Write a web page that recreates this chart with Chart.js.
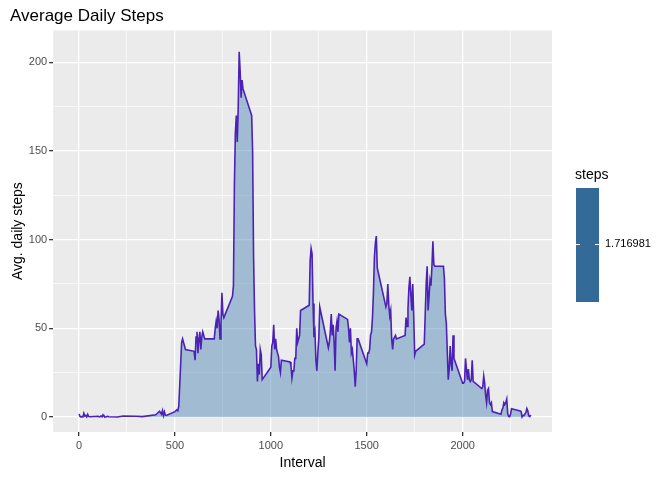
<!DOCTYPE html>
<html>
<head>
<meta charset="utf-8">
<script src="https://cdn.jsdelivr.net/npm/chart.js@4"></script>
<style>
  body { margin: 0; background: #fff; font-family: "Liberation Sans", Arial, sans-serif; }
  #wrap { position: relative; width: 672px; height: 480px; }
  #legend-title { position: absolute; left: 575px; top: 166px; font-size: 14px; color: #000; }
  #legend-bar { position: absolute; left: 576px; top: 188px; width: 23px; height: 114px; background: #336a98; }
  #legend-tick { position: absolute; left: 576px; top: 244px; width: 23px; height: 1px; }
  #legend-tick:before, #legend-tick:after { content: ""; position: absolute; top: 0; width: 4px; height: 1px; background: #fff; }
  #legend-tick:before { left: 0; }
  #legend-tick:after { right: 0; }
  #legend-label { position: absolute; left: 605px; top: 237px; font-size: 11px; color: #000; }
</style>
</head>
<body>
<div id="wrap">
  <canvas id="c" width="672" height="480"></canvas>
  <div id="legend-title">steps</div>
  <div id="legend-bar"></div>
  <div id="legend-tick"></div>
  <div id="legend-label">1.716981</div>
</div>
<script>
const intervals = [
  0,5,10,15,20,25,30,35,40,45,50,55,100,105,110,115,120,125,130,135,140,145,150,155,
  200,230,300,330,400,420,430,435,440,445,450,455,500,510,515,520,525,530,535,540,545,550,555,
  600,605,610,615,620,625,630,635,640,645,650,655,700,705,710,715,720,725,730,735,740,745,750,755,
  800,805,810,815,820,825,830,835,840,845,850,855,900,905,910,915,920,925,930,935,940,945,950,955,
  1000,1005,1010,1015,1020,1025,1030,1035,1040,1045,1050,1055,1100,1105,1110,1115,1120,1125,1130,1135,1140,1145,1150,1155,
  1200,1205,1210,1215,1220,1225,1230,1235,1240,1245,1250,1255,1300,1305,1310,1315,1320,1325,1330,1335,1340,1345,1350,1355,
  1400,1405,1410,1415,1420,1425,1430,1435,1440,1445,1450,1455,1500,1505,1510,1515,1520,1525,1530,1535,1540,1545,1550,1555,
  1600,1605,1610,1615,1620,1625,1630,1635,1640,1645,1650,1655,1700,1705,1710,1715,1720,1725,1730,1735,1740,1745,1750,1755,
  1800,1805,1810,1815,1820,1825,1830,1835,1840,1845,1850,1855,1900,1905,1910,1915,1920,1925,1930,1935,1940,1945,1950,1955,
  2000,2005,2010,2015,2020,2025,2030,2035,2040,2045,2050,2055,2100,2105,2110,2115,2120,2125,2130,2135,2140,2145,2150,2155,
  2200,2205,2210,2215,2220,2225,2230,2235,2240,2245,2250,2255,2300,2305,2310,2315,2320,2325,2330,2335,2340,2345,2350,2355
];
const avgSteps = [
  1.7,0.3,0.1,0.2,0,2.1,0.5,0.9,0,1.5,0.3,0.1,0.4,0,0.2,0.5,0.1,1.2,0.5,0,0,0.2,0.3,0.1,
  0,0.5,0.4,0.2,1.2,3.2,1.5,3.6,0.8,2.9,1,0.8,3,4,3.5,6,18,30,42,44,42,40,38,
  37,32,45,48,36,44,48,38,45,48,46,44,44,44,50,54,50,60,55,44,52,70,58,56,
  68,74,130,160,170,155,175,206,195,180,190,185,170,150,90,60,40,38,20,30,24,38,35,21,
  28,40,42,52,38,44,38,36,34,28,25,32,31,29,22,26,26,33,33,50,42,44,46,60,
  63,88,95,92,64,45,48,32,26,36,44,62,39,42,48,58,46,52,42,26,50,54,48,58,
  55,50,42,50,36,38,32,26,17,26,44,44,30,36,36,38,46,48,56,70,90,98,102,84,
  62,64,75,63,57,60,44,38,44,45,46,44,46,56,51,61,73,79,69,60,75,57,35,37,
  41,58,75,85,60,68,77,74,85,99,86,85,85,78,58,53,37,21,27,40,30,26,46,33,
  19,19,20,33,27,21,27,21,20,21,32,20,16,17,23,19,12,8,15,16,8,7,8,3,
  1.5,4,5,8,7,8,10,2,0.3,0.1,1.6,4.6,3.3,3,0,0.8,1,1.6,2.6,4.7,3.3,0.6,0.2,1.1
];
const xTicks = [0, 500, 1000, 1500, 2000];
const yTicks = [0, 50, 100, 150, 200];

const panelBg = {
  id: 'panelBg',
  beforeDraw(chart) {
    const { ctx, chartArea: a } = chart;
    ctx.save();
    ctx.fillStyle = '#ebebeb';
    ctx.fillRect(a.left, a.top, a.right - a.left, a.bottom - a.top);
    ctx.restore();
  }
};

function gridStyle(major) {
  return {
    color: ctx => '#ffffff',
    lineWidth: ctx => major.includes(ctx.tick && ctx.tick.value) ? 1.3 : 0.6,
    drawTicks: true,
    tickLength: 4,
    tickColor: ctx => major.includes(ctx.tick && ctx.tick.value) ? '#333333' : 'rgba(0,0,0,0)'
  };
}

new Chart(document.getElementById('c'), {
  type: 'line',
  data: {
    datasets: [{
      data: intervals.map((x, i) => ({ x: x, y: avgSteps[i] })),
      borderColor: '#4b22b5',
      borderWidth: 1.6,
      backgroundColor: 'rgba(70,130,180,0.45)',
      fill: 'origin',
      pointRadius: 0,
      tension: 0
    }]
  },
  options: {
    responsive: false,
    animation: false,
    layout: { padding: { left: 10, right: 120, top: 0, bottom: 4 } },
    plugins: {
      legend: { display: false },
      tooltip: { enabled: false },
      title: {
        display: true,
        text: 'Average Daily Steps',
        align: 'start',
        color: '#000',
        font: { size: 17, weight: 'normal', family: '"Liberation Sans", Arial' },
        padding: { top: 6, bottom: 4 }
      }
    },
    scales: {
      x: {
        type: 'linear',
        min: -135,
        max: 2466,
        afterBuildTicks: ax => { ax.ticks = [0,250,500,750,1000,1250,1500,1750,2000,2250].map(v => ({ value: v })); },
        ticks: {
          color: '#4d4d4d', font: { size: 11 }, maxRotation: 0, autoSkip: false,
          callback: v => xTicks.includes(v) ? v : ''
        },
        grid: gridStyle(xTicks),
        border: { display: false },
        title: { display: true, text: 'Interval', color: '#000', font: { size: 14 }, padding: { top: 0 } }
      },
      y: {
        min: -8.5,
        max: 218,
        afterBuildTicks: ax => { ax.ticks = [0,25,50,75,100,125,150,175,200].map(v => ({ value: v })); },
        ticks: {
          color: '#4d4d4d', font: { size: 11 }, autoSkip: false, padding: 2,
          callback: v => yTicks.includes(v) ? v : ''
        },
        grid: gridStyle(yTicks),
        border: { display: false },
        title: { display: true, text: 'Avg. daily steps', color: '#000', font: { size: 14 }, padding: { top: 0, bottom: 0 } }
      }
    }
  },
  plugins: [panelBg]
});
</script>
</body>
</html>
